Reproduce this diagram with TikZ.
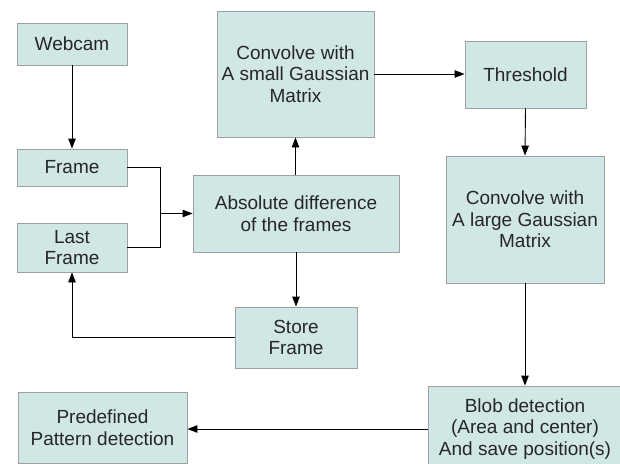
\documentclass[tikz,border=0pt]{standalone}
\usepackage{fontspec}
\setmainfont{Liberation Sans}
\usetikzlibrary{arrows.meta}
\definecolor{boxfill}{HTML}{D0E7E5}
\definecolor{boxline}{HTML}{A0A0A0}
\definecolor{txt}{HTML}{262626}
\begin{document}
\begin{tikzpicture}[x=1pt,y=-1pt,
  box/.style={draw=boxline,fill=boxfill,line width=0.9pt,inner sep=0pt,align=center,
    text=txt,font=\fontsize{19pt}{21.7pt}\selectfont},
  conn/.style={draw=black,line width=0.9pt},
  arr/.style={conn,-{Triangle[length=10pt,width=7.5pt]}}]
\useasboundingbox (0,0) rectangle (620,463);
\fill[white] (0,0) rectangle (620,463);
\node[box,minimum width=110pt,minimum height=42pt] (webcam) at (72,44) {Webcam};
\node[box,minimum width=110pt,minimum height=37pt] (frame) at (72,167.5) {Frame};
\node[box,minimum width=110pt,minimum height=49pt] (last) at (72,247.5) {Last\\Frame};
\node[box,minimum width=206pt,minimum height=77pt] (absd) at (296,213.5) {Absolute difference\\of the frames};
\node[box,minimum width=157pt,minimum height=126pt] (small) at (295.5,74) {Convolve with\\A small Gaussian\\Matrix};
\node[box,minimum width=121pt,minimum height=67pt] (thr) at (525.5,74.5) {Threshold};
\node[box,minimum width=158pt,minimum height=127pt] (large) at (525,219.5) {Convolve with\\A large Gaussian\\Matrix};
\node[box,minimum width=122pt,minimum height=61pt] (store) at (296,337.5) {Store\\Frame};
\node[box,minimum width=194pt,minimum height=86pt] (blob) at (525,429) {Blob detection\\(Area and center)\\And save position(s)};
\node[box,minimum width=169pt,minimum height=71pt] (pre) at (102.5,427.5) {Predefined\\Pattern detection};
\coordinate (j) at (160,213.5);
\draw[arr] (webcam.south) -- (frame.north);
\draw[conn] (frame.east) -| (j);
\draw[conn] (last.east) -| (j);
\draw[arr] (j) -- (absd.west);
\draw[arr] (absd.north -| small.south) -- (small.south);
\draw[arr] (absd.south) -- (store.north);
\draw[arr] (store.west) -| (last.south);
\draw[arr] (small.east) -- (small.east -| thr.west);
\draw[arr] (thr.south) -- (large.north);
\draw[arr] (large.south) -- (blob.north);
\draw[arr] (blob.west) -- (blob.west -| pre.east);
\end{tikzpicture}
\end{document}
